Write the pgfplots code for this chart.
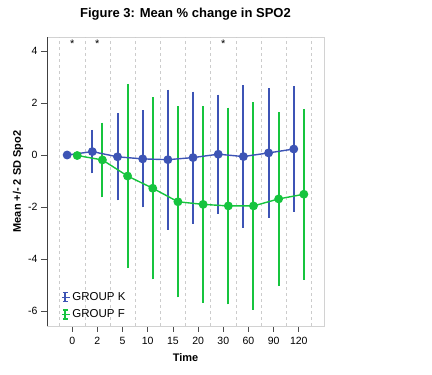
\documentclass[border=0pt]{standalone}
\usepackage{pgfplots}
\pgfplotsset{compat=1.18}
\usepackage{fontspec}
\setmainfont{Liberation Sans}
\definecolor{gk}{RGB}{61,84,181}
\definecolor{gf}{RGB}{22,196,62}
\pgfplotstableread{
x y e
-0.2 0 0
0.8 0.13 0.76
1.8 -0.07 1.6
2.8 -0.15 1.79
3.8 -0.18 2.62
4.8 -0.10 2.46
5.8 0.03 2.22
6.8 -0.06 2.66
7.8 0.08 2.42
8.8 0.23 2.33
}\tabK
\pgfplotstableread{
x y e
0.2 -0.02 0
1.2 -0.19 1.36
2.2 -0.81 3.47
3.2 -1.28 3.43
4.2 -1.80 3.60
5.2 -1.90 3.70
6.2 -1.96 3.71
7.2 -1.96 3.92
8.2 -1.69 3.26
9.2 -1.51 3.21
}\tabF
\begin{document}
\begin{tikzpicture}
\path[use as bounding box] (-47pt,-49pt) rectangle (385pt,326pt);
\begin{axis}[
  at={(0,0)}, anchor=south west,
  scale only axis, width=277pt, height=289pt,
  xmin=-1, xmax=10, ymin=-6.58, ymax=4.54,
  xtick={0,...,9}, xticklabels={0,2,5,10,15,20,30,60,90,120},
  ytick={-6,-4,-2,0,2,4},
  xtick pos=bottom, ytick pos=left, tick align=outside,
  major tick length=6pt,
  tick style={black!70, line width=0.7pt},
  axis line style={gray!35, line width=0.8pt},
  extra x ticks={-0.5,0.5,1.5,2.5,3.5,4.5,5.5,6.5,7.5,8.5,9.5},
  extra x tick labels={},
  extra x tick style={grid=major, major tick length=0pt, grid style={dashed, gray!40, line width=0.5pt}},
  ticklabel style={font=\fontsize{10.5}{12}\selectfont},
  xticklabel style={yshift=-1.5pt},
  /pgf/number format/assume math mode=true,
  xlabel={Time}, ylabel={Mean +/- 2 SD Spo2},
  xlabel style={font=\fontsize{11}{13}\selectfont\bfseries, at={(axis description cs:0.5,-0.123)}, anchor=base},
  ylabel style={font=\fontsize{11}{13}\selectfont\bfseries, at={(axis description cs:-0.105,0.5)}, anchor=center},
  title={Figure 3: Mean \% change in SPO2},
  title style={font=\fontsize{13}{15}\selectfont\bfseries, at={(axis description cs:0.5,1.045)}, anchor=base},
  legend style={draw=none, fill=none, at={(axis description cs:0.05,0.128)}, anchor=north west,
    font=\fontsize{11.5}{13}\selectfont, row sep=4pt, inner sep=1pt},
  legend cell align=left,
  legend image code/.code={
    \draw[line width=1.6pt] (3pt,-4.6pt) -- (3pt,4.6pt);
    \draw[line width=1.6pt] (0.6pt,-4.6pt) -- (5.4pt,-4.6pt);
    \draw[line width=1.6pt] (0.6pt,4.6pt) -- (5.4pt,4.6pt);
    \path (0pt,0pt) -- (8pt,0pt);
  },
]
% error bars
\addplot[forget plot, gk, line width=2pt, only marks, mark=none,
  error bars/.cd, y dir=both, y explicit, error mark=-,
  error bar style={line width=2pt, color=gk, solid},
  error mark options={mark size=2pt, line width=2pt, color=gk}]
  table[x=x, y=y, y error=e] {\tabK};
\addplot[forget plot, gf, line width=2pt, only marks, mark=none,
  error bars/.cd, y dir=both, y explicit, error mark=-,
  error bar style={line width=2pt, color=gf, solid},
  error mark options={mark size=2pt, line width=2pt, color=gf}]
  table[x=x, y=y, y error=e] {\tabF};
% legend stubs
\addlegendimage{gk}\addlegendentry{GROUP K}
\addlegendimage{gf}\addlegendentry{GROUP F}
% mean lines
\addplot[forget plot, gk, line width=1.4pt, mark=*, mark size=3.7pt, mark options={solid, fill=gk}]
  table[x=x, y=y] {\tabK};
\addplot[forget plot, gf, line width=1.4pt, mark=*, mark size=3.7pt, mark options={solid, fill=gf}]
  table[x=x, y=y] {\tabF};
\addplot[forget plot, only marks, mark=none, nodes near coords={*},
  every node near coord/.style={anchor=center, font=\fontsize{11}{11}\selectfont, black}]
  coordinates {(0,4.28) (1,4.28) (6,4.28)};
\draw[black!75, line width=0.8pt] (rel axis cs:0,1) -- (rel axis cs:0,0) -- (rel axis cs:1,0);
\end{axis}
\end{tikzpicture}
\end{document}
